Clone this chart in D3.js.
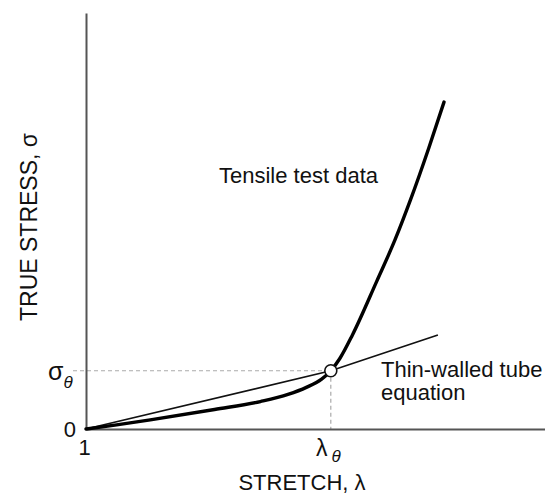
<!DOCTYPE html>
<html>
<head>
<meta charset="utf-8">
<script src="https://cdn.jsdelivr.net/npm/d3@7"></script>
<style>
  body { margin: 0; background: #fff; }
  svg text { font-family: "Liberation Sans", Arial, sans-serif; fill: #111; }
</style>
</head>
<body>
<div id="chart"></div>
<script>
// tensile test curve (stretch λ, true stress σ, arbitrary units)
const testStretch = [1.00, 1.10, 1.21, 1.42, 1.57, 1.66, 1.72, 1.77, 1.80, 1.83, 1.87, 1.95, 2.01, 2.06, 2.12, 2.17];
const testStress  = [0.00, 0.10, 0.22, 0.47, 0.66, 0.83, 1.00, 1.20, 1.40, 1.70, 2.25, 3.55, 4.55, 5.50, 6.75, 7.86];

// thin-walled tube equation line
const tubeStretch = [1.00, 1.80, 2.15];
const tubeStress  = [0.00, 1.40, 2.26];

// intersection point
const lambdaTheta = 1.80;
const sigmaTheta = 1.40;

const width = 545, height = 496;

const svg = d3.select("#chart").append("svg")
    .attr("width", width)
    .attr("height", height);

const x = d3.scaleLinear().domain([1, 2.5]).range([86, 545]);
const y = d3.scaleLinear().domain([0, 10]).range([429, 13]);

const line = d3.line()
    .x(d => x(d[0]))
    .y(d => y(d[1]));

// reference dashes
svg.append("line")
    .attr("x1", 73).attr("x2", x(lambdaTheta))
    .attr("y1", y(sigmaTheta)).attr("y2", y(sigmaTheta))
    .attr("stroke", "#aaa").attr("stroke-width", 1.2)
    .attr("stroke-dasharray", "4,3");
svg.append("line")
    .attr("x1", x(lambdaTheta)).attr("x2", x(lambdaTheta))
    .attr("y1", y(sigmaTheta)).attr("y2", y(0))
    .attr("stroke", "#aaa").attr("stroke-width", 1.2)
    .attr("stroke-dasharray", "4,3");

// axes
const xAxis = svg.append("g")
    .attr("transform", `translate(0,${y(0)})`)
    .call(d3.axisBottom(x).tickValues([1]).tickSize(0).tickSizeOuter(0).tickPadding(10).tickFormat(d3.format("d")));
const yAxis = svg.append("g")
    .attr("transform", `translate(${x(1)},0)`)
    .call(d3.axisLeft(y).tickValues([0]).tickSize(0).tickSizeOuter(0).tickPadding(10).tickFormat(d3.format("d")));

[xAxis, yAxis].forEach(a => {
    a.select(".domain").attr("stroke", "#555").attr("stroke-width", 2);
    a.selectAll("text").attr("font-size", 22).attr("fill", "#111")
        .attr("font-family", "Liberation Sans, Arial, sans-serif");
});
xAxis.select(".tick text").attr("dx", -2);
yAxis.select(".tick text").attr("dy", "0.36em");

// tube equation line
svg.append("path")
    .datum(d3.zip(tubeStretch, tubeStress))
    .attr("fill", "none")
    .attr("stroke", "#111")
    .attr("stroke-width", 1.7)
    .attr("d", line);

// tensile test data
svg.append("path")
    .datum(d3.zip(testStretch, testStress))
    .attr("fill", "none")
    .attr("stroke", "#000")
    .attr("stroke-width", 3.4)
    .attr("stroke-linecap", "round")
    .attr("d", line.curve(d3.curveMonotoneX));

svg.append("circle")
    .attr("cx", x(lambdaTheta)).attr("cy", y(sigmaTheta))
    .attr("r", 6)
    .attr("fill", "#fff")
    .attr("stroke", "#111")
    .attr("stroke-width", 1.6);

// labels
const sig = svg.append("text").attr("x", 48).attr("y", 380);
sig.append("tspan").attr("font-size", 25).text("σ");
sig.append("tspan").attr("font-size", 17).attr("font-style", "italic").attr("dy", 8).text("θ");

const lam = svg.append("text").attr("x", 316).attr("y", 456);
lam.append("tspan").attr("font-size", 23).text("λ");
lam.append("tspan").attr("font-size", 17).attr("font-style", "italic").attr("dx", 4).attr("dy", 6).text("θ");

svg.append("text")
    .attr("x", 302).attr("y", 490)
    .attr("text-anchor", "middle")
    .attr("font-size", 22)
    .text("STRETCH, λ");

svg.append("text")
    .attr("transform", "translate(37,227) rotate(-90)")
    .attr("text-anchor", "middle")
    .attr("font-size", 23)
    .text("TRUE STRESS, σ");

svg.append("text")
    .attr("x", 219).attr("y", 183)
    .attr("font-size", 22)
    .text("Tensile test data");

const tube = svg.append("text").attr("font-size", 22);
tube.append("tspan").attr("x", 381).attr("y", 377).text("Thin-walled tube");
tube.append("tspan").attr("x", 381).attr("y", 400).text("equation");
</script>
</body>
</html>
